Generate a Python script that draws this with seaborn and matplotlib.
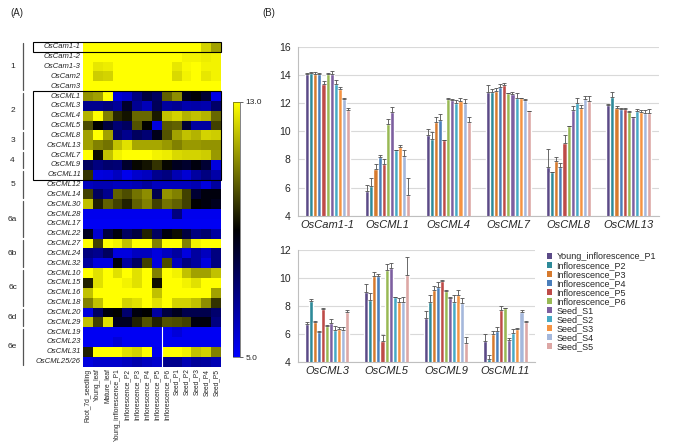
import numpy as np
import pandas as pd
import seaborn as sns
import matplotlib
matplotlib.use('Agg')
import matplotlib.pyplot as plt
from matplotlib.colors import LinearSegmentedColormap
from matplotlib.patches import Rectangle, Patch
from matplotlib import transforms

# ---- (A) heatmap data ----
samples = ['Root_7d_seedling', 'Young_leaf', 'Mature_leaf', 'Young_inflorescence_P1',
           'Inflorescence_P2', 'Inflorescence_P3', 'Inflorescence_P4', 'Inflorescence_P5',
           'Inflorescence_P6', 'Seed_P1', 'Seed_P2', 'Seed_P3', 'Seed_P4', 'Seed_P5']

genes = ['OsCam1-1', 'OsCam1-2', 'OsCam1-3', 'OsCam2', 'OsCam3',
         'OsCML1', 'OsCML3', 'OsCML4', 'OsCML5', 'OsCML8', 'OsCML13',
         'OsCML7', 'OsCML9', 'OsCML11', 'OsCML12', 'OsCML14', 'OsCML30',
         'OsCML28', 'OsCML17', 'OsCML22', 'OsCML27', 'OsCML24', 'OsCML32',
         'OsCML10', 'OsCML15', 'OsCML16', 'OsCML18', 'OsCML20', 'OsCML29',
         'OsCML19', 'OsCML23', 'OsCML31', 'OsCML25/26']

grp1_vals = [
    [13.5, 13.5, 13.5, 14.1, 14.2, 14.1, 14.1, 13.4, 14.1, 14.1, 13.4, 13.0, 12.3, 11.5],
    [13.5, 13.5, 13.5, 13.5, 13.5, 13.5, 13.5, 13.5, 13.5, 13.2, 12.8, 12.8, 12.7, 12.8],
    [13.5, 12.6, 12.7, 13.5, 13.5, 13.5, 13.5, 13.5, 13.5, 12.6, 12.9, 13.2, 12.8, 12.8],
    [13.5, 12.2, 12.3, 13.5, 13.5, 13.5, 13.5, 13.5, 13.5, 12.4, 12.8, 13.2, 12.6, 12.8],
    [13.5, 13.5, 13.5, 13.5, 13.5, 13.5, 13.5, 13.5, 13.5, 13.5, 13.5, 13.3, 13.0, 13.0],
]
grp2_vals = [
    [11.3, 11.5, 13.2, 5.6, 5.9, 7.0, 8.0, 7.5, 10.5, 11.2, 8.6, 8.9, 8.2, 5.4],
    [6.8, 6.8, 7.0, 6.6, 8.3, 6.7, 6.1, 7.6, 6.5, 6.7, 6.3, 6.4, 6.3, 7.4],
    [11.8, 13.2, 11.0, 9.6, 9.3, 10.6, 10.6, 9.4, 12.0, 12.3, 11.8, 12.0, 11.8, 10.6],
    [10.2, 9.0, 8.0, 7.2, 7.5, 10.3, 9.0, 5.5, 10.4, 10.5, 8.2, 6.5, 6.5, 10.0],
]
grp3_vals = [
    [11.5, 13.2, 11.5, 7.3, 6.8, 7.5, 7.2, 8.6, 10.3, 11.5, 12.0, 11.8, 12.3, 12.2],
    [11.5, 11.0, 10.8, 12.0, 12.5, 11.6, 11.6, 11.6, 11.4, 11.0, 11.4, 11.4, 11.3, 11.3],
]
grp4_vals = [
    [13.5, 9.2, 12.0, 12.8, 13.0, 13.2, 13.3, 12.8, 12.7, 12.4, 12.3, 12.3, 12.2, 11.4],
    [7.5, 7.0, 7.3, 7.2, 8.3, 9.1, 9.3, 9.8, 9.1, 8.5, 8.3, 8.8, 8.2, 5.5],
]
grp5_vals = [
    [9.8, 5.5, 5.6, 6.0, 5.3, 5.8, 6.0, 6.8, 7.0, 6.2, 5.7, 6.5, 7.0, 6.4],
    [6.0, 6.2, 6.2, 6.0, 6.0, 6.2, 6.5, 6.0, 6.0, 6.0, 6.0, 6.2, 5.5, 6.5],
    [10.0, 7.5, 6.8, 10.5, 10.2, 10.8, 11.2, 7.8, 11.3, 11.0, 10.0, 8.2, 8.8, 8.8],
]
grp6a_vals = [
    [12.0, 9.5, 10.5, 10.0, 9.5, 10.5, 11.0, 10.0, 10.8, 10.5, 10.0, 9.0, 8.8, 8.5],
    [5.3, 5.3, 5.3, 5.3, 5.3, 5.3, 5.3, 5.3, 5.3, 7.0, 5.3, 5.3, 5.3, 5.3],
    [5.2, 5.2, 5.2, 5.2, 5.2, 5.2, 5.2, 5.2, 5.2, 5.2, 5.2, 5.2, 5.2, 5.2],
    [8.5, 5.8, 8.0, 8.8, 7.5, 8.0, 9.5, 7.5, 8.8, 9.2, 8.0, 7.0, 7.3, 6.5],
]
grp6b_vals = [
    [13.3, 10.0, 13.3, 12.8, 12.0, 13.3, 13.3, 11.0, 13.3, 13.3, 11.0, 12.8, 13.3, 13.3],
    [7.0, 6.8, 7.5, 5.5, 5.5, 6.0, 6.0, 5.5, 6.0, 6.5, 5.5, 6.5, 6.0, 7.0],
    [6.5, 5.5, 5.5, 8.8, 6.5, 7.5, 10.0, 5.5, 10.2, 6.0, 7.0, 6.5, 5.5, 7.0],
]
grp6c_vals = [
    [13.3, 12.5, 13.3, 12.5, 13.0, 12.5, 13.3, 11.0, 13.3, 12.8, 12.0, 11.5, 11.5, 12.0],
    [9.5, 12.5, 13.3, 13.3, 12.8, 12.5, 13.3, 9.2, 13.3, 13.3, 12.8, 12.5, 13.0, 13.3],
    [12.0, 13.3, 13.3, 13.3, 13.3, 13.3, 13.3, 12.0, 13.3, 13.3, 13.3, 13.3, 13.0, 11.5],
    [11.0, 12.0, 13.3, 13.0, 12.3, 12.5, 13.0, 12.5, 13.3, 12.3, 12.3, 12.0, 11.2, 9.8],
]
grp6d_vals = [
    [5.5, 7.5, 8.8, 9.0, 7.3, 8.8, 9.0, 6.5, 8.0, 8.5, 7.8, 7.8, 7.8, 7.3],
    [12.0, 10.0, 12.5, 8.5, 8.5, 9.5, 10.3, 9.5, 10.3, 10.2, 10.0, 8.8, 8.8, 7.0],
]
grp6e_vals = [
    [5.2, 5.2, 5.2, 5.2, 5.2, 5.2, 5.2, 5.2, 5.2, 5.6, 5.2, 5.2, 5.2, 5.2],
    [5.2, 5.2, 5.2, 5.6, 5.2, 5.2, 5.2, 5.2, 5.2, 5.2, 5.2, 5.2, 5.2, 5.2],
    [9.5, 13.3, 13.3, 13.3, 12.5, 12.3, 13.3, 5.3, 13.3, 13.3, 12.8, 12.0, 12.3, 11.0],
    [5.5, 5.8, 5.8, 5.8, 6.0, 6.3, 6.0, 5.8, 6.8, 6.8, 6.2, 6.6, 6.5, 6.2],
]
group_names = ['1', '2', '3', '4', '5', '6a', '6b', '6c', '6d', '6e']
group_sizes = [5, 4, 2, 2, 3, 4, 3, 4, 2, 4]

# ---- (B) bar data ----
bar_samples = ['Young_inflorescence_P1', 'Inflorescence_P2', 'Inflorescence_P3',
               'Inflorescence_P4', 'Inflorescence_P5', 'Inflorescence_P6',
               'Seed_S1', 'Seed_S2', 'Seed_S3', 'Seed_S4', 'Seed_S5']
bar_colors = ['#5B4A87', '#2E8A99', '#D67A2E', '#4A7EBB', '#BE4B48', '#98B954',
              '#7D5FA0', '#46AAC5', '#F59342', '#A5B8DC', '#DDA7A5']

top_genes = ['OsCam1-1', 'OsCML1', 'OsCML4', 'OsCML7', 'OsCML8', 'OsCML13']
cam11 = [14.05, 14.15, 14.1, 14.1, 13.4, 14.1, 14.1, 13.4, 13.0, 12.3, 11.55]
cam11_err = [0.1, 0.05, 0.1, 0.05, 0.15, 0.05, 0.2, 0.25, 0.15, 0.1, 0.1]
cml1 = [5.75, 6.1, 7.3, 8.2, 7.7, 10.5, 11.35, 8.65, 8.9, 8.25, 5.45]
cml1_err = [0.45, 0.55, 0.35, 0.15, 0.3, 0.4, 0.35, 0.05, 0.15, 0.4, 1.25]
cml4 = [9.75, 9.45, 10.7, 10.8, 9.35, 12.3, 12.2, 12.0, 12.15, 12.0, 10.7]
cml4_err = [0.4, 0.5, 0.3, 0.45, 0.05, 0.05, 0.1, 0.25, 0.25, 0.3, 0.3]
cml7 = [12.77, 12.77, 12.86, 13.15, 13.27, 12.72, 12.67, 12.4, 12.34, 12.22, 11.44]
cml7_err = [0.5, 0.25, 0.2, 0.25, 0.15, 0.03, 0.1, 0.35, 0.05, 0.1, 0.03]
cml8 = [7.48, 7.08, 7.86, 7.48, 9.19, 10.37, 11.51, 11.99, 11.68, 12.27, 12.18]
cml8_err = [1.25, 0.0, 0.35, 0.25, 0.55, 0.03, 0.3, 0.4, 0.2, 0.25, 0.3]
cml13 = [11.89, 12.41, 11.68, 11.61, 11.61, 11.39, 10.99, 11.44, 11.39, 11.32, 11.3]
cml13_err = [0.05, 0.4, 0.15, 0.05, 0.07, 0.05, 0.05, 0.15, 0.1, 0.2, 0.3]

bottom_genes = ['OsCML3', 'OsCML5', 'OsCML9', 'OsCML11']
cml3 = [6.73, 8.39, 6.85, 6.19, 7.8, 6.61, 6.8, 6.3, 6.38, 6.3, 7.61]
cml3_err = [0.12, 0.1, 0.12, 0.03, 0.1, 0.05, 0.25, 0.3, 0.12, 0.2, 0.12]
cml5 = [9.01, 8.42, 10.13, 10.13, 5.54, 10.58, 10.72, 8.63, 8.3, 8.3, 10.2]
cml5_err = [0.55, 0.55, 0.3, 0.15, 0.4, 0.4, 0.35, 0.03, 0.3, 0.35, 1.3]
cml9 = [7.18, 8.3, 9.15, 9.34, 9.82, 9.08, 8.56, 8.3, 8.82, 8.25, 5.4]
cml9_err = [0.45, 0.5, 0.3, 0.4, 0.05, 0.05, 0.12, 0.5, 0.3, 0.3, 0.38]
cml11 = [5.5, 4.2, 6.0, 6.25, 7.72, 7.84, 5.59, 6.06, 6.4, 7.6, 6.9]
cml11_err = [0.5, 0.3, 0.25, 0.25, 0.3, 0.05, 0.12, 0.3, 0.05, 0.12, 0.05]

# ---- figure ----
sns.set_style("white")
plt.rcParams['font.family'] = ['Liberation Sans', 'DejaVu Sans']

W, H = 685, 444
fig = plt.figure(figsize=(W / 100, H / 100), dpi=100)


def px_axes(x0, y0, x1, y1):
    # pixel box (from top-left) -> axes
    return fig.add_axes([x0 / W, 1 - y1 / H, (x1 - x0) / W, (y1 - y0) / H])


# heatmap
heat = pd.DataFrame(grp1_vals + grp2_vals + grp3_vals + grp4_vals + grp5_vals + grp6a_vals
                    + grp6b_vals + grp6c_vals + grp6d_vals + grp6e_vals,
                    index=genes, columns=samples)
cmap = LinearSegmentedColormap.from_list('byk', ['#0000FF', '#000000', '#FFFF00'])

ax_h = px_axes(83, 42, 221, 366.5)
cax = px_axes(233, 102, 240, 357)
sns.heatmap(heat, cmap=cmap, vmin=5, vmax=13, ax=ax_h, cbar_ax=cax,
            cbar_kws={'ticks': [5, 13]}, xticklabels=True, yticklabels=True)
ax_h.tick_params(length=0, pad=1.5)
ax_h.set_yticklabels(genes, fontsize=5.5, style='italic', rotation=0)
ax_h.set_xticklabels(samples, fontsize=4.8, rotation=90)
ax_h.set_xlabel('')
ax_h.set_ylabel('')
cax.set_yticklabels(['5.0', '13.0'], fontsize=6)
cax.tick_params(length=2, width=0.5, pad=2)
ax_h.collections[0].colorbar.outline.set_linewidth(0.4)

# artifact white line between P5 and P6 for group 6e
ax_h.plot([8, 8], [29, 33], color='white', lw=0.8)

blend = transforms.blended_transform_factory(ax_h.transAxes, ax_h.transData)
start = 0
for name, n in zip(group_names, group_sizes):
    ax_h.plot([-0.435, -0.435], [start + 0.15, start + n - 0.15], color='#555555',
              lw=0.9, transform=blend, clip_on=False)
    ax_h.text(-0.51, start + n / 2, name, fontsize=6, ha='center', va='center',
              transform=blend)
    start += n

ax_h.add_patch(Rectangle((-0.362, 0), 1.362, 1, transform=blend, fill=False,
                         lw=0.8, ec='black', clip_on=False))
ax_h.add_patch(Rectangle((-0.362, 5), 1.362, 9, transform=blend, fill=False,
                         lw=0.8, ec='black', clip_on=False))


def draw_bars(ax, gene_list, means, errs, ymax):
    rows = []
    for g, vals in zip(gene_list, means):
        for s, v in zip(bar_samples, vals):
            rows.append({'gene': g, 'sample': s, 'value': v})
    df = pd.DataFrame(rows)
    sns.barplot(data=df, x='gene', y='value', hue='sample', hue_order=bar_samples,
                palette=bar_colors, width=0.75, errorbar=None, saturation=1,
                legend=False, ax=ax)
    bar_conts = list(ax.containers)
    for h, cont in enumerate(bar_conts):
        xs = [b.get_x() + b.get_width() / 2 for b in cont]
        ys = [m[h] for m in means]
        up = [e[h] for e in errs]
        ax.errorbar(xs, ys, yerr=[np.zeros(len(up)), up], fmt='none',
                    ecolor='#505050', elinewidth=0.6, capsize=1.3, capthick=0.6)
    ax.set_ylim(4, ymax)
    ax.set_xlim(-0.5, len(gene_list) - 0.5)
    ax.set_yticks(np.arange(4, ymax + 1, 2))
    ax.yaxis.grid(True, color='#D9D9D9', lw=0.8)
    ax.set_axisbelow(True)
    for sp in ['top', 'right']:
        ax.spines[sp].set_visible(False)
    for sp in ['left', 'bottom']:
        ax.spines[sp].set_color('#BFBFBF')
        ax.spines[sp].set_linewidth(0.8)
    ax.set_xticks(np.arange(-0.5, len(gene_list)), minor=True)
    ax.tick_params(axis='x', which='major', length=0, pad=3)
    ax.tick_params(axis='x', which='minor', length=3, color='#BFBFBF', width=0.8)
    ax.tick_params(axis='y', length=3, color='#BFBFBF', labelsize=7.5, pad=2)
    ax.set_xticklabels(gene_list, fontsize=8, style='italic')
    ax.set_xlabel('')
    ax.set_ylabel('')


ax_top = px_axes(297.5, 47, 659, 215.7)
draw_bars(ax_top, top_genes, [cam11, cml1, cml4, cml7, cml8, cml13],
          [cam11_err, cml1_err, cml4_err, cml7_err, cml8_err, cml13_err], 16)

ax_bot = px_axes(297.5, 250, 535, 362.3)
draw_bars(ax_bot, bottom_genes, [cml3, cml5, cml9, cml11],
          [cml3_err, cml5_err, cml9_err, cml11_err], 12)

handles = [Patch(facecolor=c, edgecolor='none') for c in bar_colors]
fig.legend(handles, bar_samples, loc='upper left', bbox_to_anchor=(547 / W, 1 - 252 / H),
           frameon=False, fontsize=6.5, handlelength=0.55, handleheight=0.55,
           handletextpad=0.5, labelspacing=0.0, borderpad=0, borderaxespad=0)

fig.text(10 / W, 1 - 13 / H, '(A)', fontsize=7, va='center')
fig.text(262 / W, 1 - 13 / H, '(B)', fontsize=7, va='center')

fig.savefig('out.png', dpi=100)
